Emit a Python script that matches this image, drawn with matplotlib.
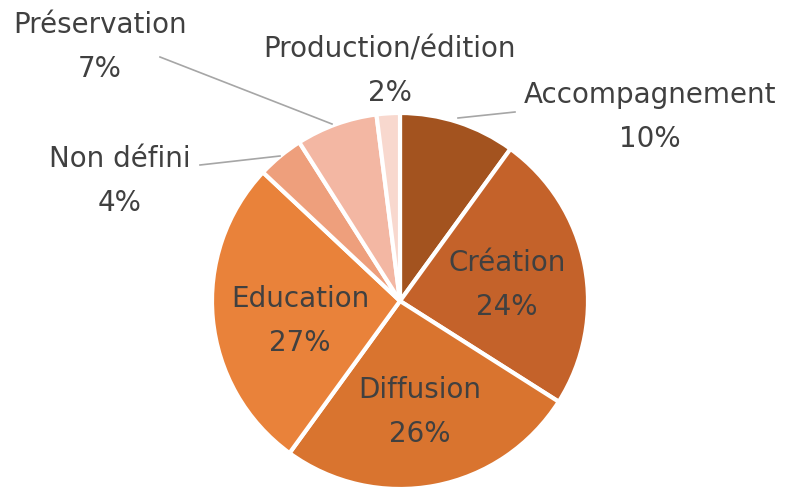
import matplotlib.pyplot as plt

labels = ['Accompagnement', 'Création', 'Diffusion', 'Education', 'Non défini', 'Préservation', 'Production/édition']
values = [10, 24, 26, 27, 4, 7, 2]
colors = ['#A3531F', '#C4622A', '#D9742F', '#E9823A', '#EE9F7C', '#F3B7A3', '#F8D8CE']

W, H = 787, 492
fig = plt.figure(figsize=(W / 100, H / 100), dpi=100)
ax = fig.add_axes([0, 0, 1, 1])

cx, cy, r = 400, H - 301, 188
ax.pie(values, colors=colors, startangle=90, counterclock=False,
       center=(cx, cy), radius=r, frame=True,
       wedgeprops=dict(edgecolor='white', linewidth=3))
ax.set_xlim(0, W)
ax.set_ylim(0, H)
ax.set_aspect('equal')
ax.axis('off')

tc = '#404040'
fs = 20
pos = {
    'Création': (507, 285),
    'Diffusion': (420, 412),
    'Education': (300, 321),
    'Accompagnement': (650, 117),
    'Non défini': (120, 181),
    'Préservation': (100, 47),
    'Production/édition': (390, 71),
}
for lab, v in zip(labels, values):
    x, y = pos[lab]
    ax.text(x, H - y, f'{lab}\n{v}%', ha='center', va='center', fontsize=fs,
            color=tc, linespacing=1.7)

lines = [((458, 118), (515, 112)), ((200, 165), (280, 156)), ((160, 57), (332, 124))]
for (x1, y1), (x2, y2) in lines:
    ax.plot([x1, x2], [H - y1, H - y2], color='#A6A6A6', lw=1.2)

fig.savefig('out.png', dpi=100)
